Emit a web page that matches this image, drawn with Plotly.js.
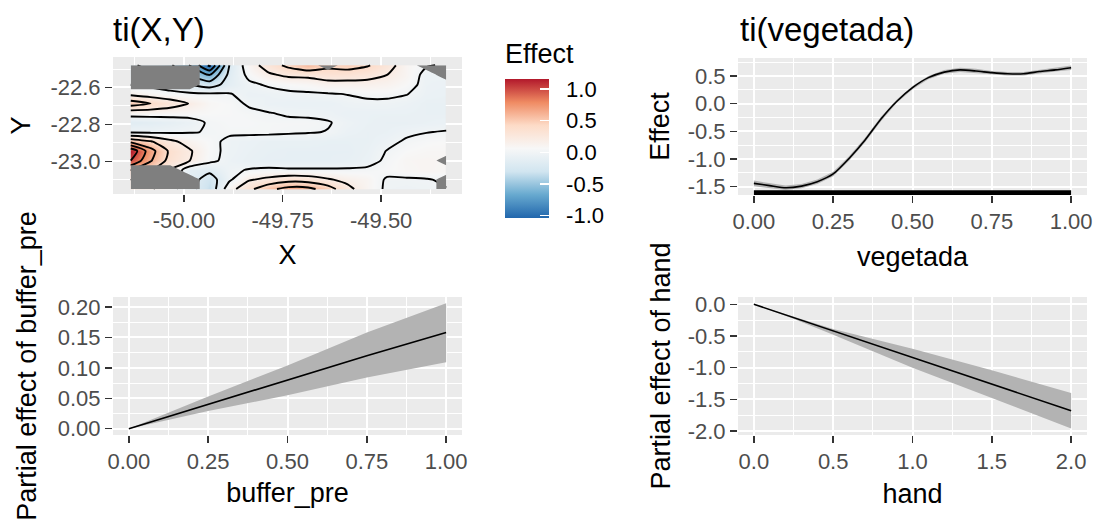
<!DOCTYPE html>
<html>
<head>
<meta charset="utf-8">
<script src="https://cdn.plot.ly/plotly-3.0.1.min.js"></script>
<style>html,body{margin:0;padding:0;background:#fff;}#chart{width:1099px;height:532px;}</style>
</head>
<body>
<div id="chart"></div>
<script>
// ---------------- DATA ----------------
// ti(X,Y) surface (rows from south to north, columns from west to east); null = outside data (grey)
const heatX = [-50.135, -50.085, -50.035, -49.985, -49.935, -49.885, -49.835, -49.785, -49.735, -49.685, -49.635, -49.585, -49.535, -49.485, -49.435, -49.385, -49.335];
const heatY = [-23.150, -23.099, -23.047, -22.996, -22.944, -22.893, -22.841, -22.790, -22.738, -22.687, -22.635, -22.584, -22.532, -22.480];
const heatZ = [
  [null, null, null, null, -0.35, 0.12, 0.35, 0.55, 0.67, 0.66, 0.50, 0.25, 0.10, -0.03, -0.04, -0.03, null],
  [null, null, null, null, -0.30, -0.03, 0.18, 0.25, 0.32, 0.30, 0.22, 0.15, 0.10, -0.02, -0.02, -0.01, null],
  [null, null, null, -0.12, -0.15, -0.03, 0.01, 0.03, 0.02, 0.02, 0.02, 0.02, 0.03, 0.05, 0.08, 0.10, 0.08],
  [1.00, 0.62, 0.33, 0.20, 0.04, -0.05, -0.08, -0.10, -0.10, -0.10, -0.10, -0.09, -0.06, 0.03, 0.09, 0.10, null],
  [1.16, 0.68, 0.36, 0.22, 0.05, -0.04, -0.07, -0.09, -0.10, -0.10, -0.10, -0.10, -0.07, 0.005, 0.06, 0.08, 0.08],
  [0.55, 0.42, 0.25, 0.12, 0.05, -0.04, -0.06, -0.08, -0.08, -0.08, -0.09, -0.09, -0.08, -0.04, 0.02, 0.05, 0.06],
  [-0.03, -0.04, -0.03, -0.01, 0.01, 0.03, 0.03, 0.03, 0.02, 0.01, -0.005, -0.06, -0.08, -0.07, -0.03, -0.005, 0.01],
  [-0.15, -0.13, -0.10, -0.06, 0.02, 0.04, 0.04, 0.03, 0.03, 0.03, 0.01, -0.04, -0.07, -0.08, -0.08, -0.07, -0.06],
  [0.09, 0.09, 0.08, 0.07, 0.06, 0.05, 0.03, 0.005, -0.02, -0.03, -0.04, -0.07, -0.07, -0.07, -0.07, -0.08, -0.08],
  [0.50, 0.40, 0.30, 0.19, 0.08, 0.05, -0.02, -0.06, -0.07, -0.07, -0.07, -0.04, -0.03, -0.03, -0.05, -0.08, -0.08],
  [0.15, 0.10, 0.06, 0.03, 0.02, 0.01, -0.06, -0.05, -0.03, -0.02, -0.01, 0.005, 0.03, 0.03, 0.005, -0.06, -0.07],
  [null, null, null, null, -0.30, -0.12, -0.03, 0.02, 0.06, 0.08, 0.13, 0.13, 0.14, 0.12, 0.06, -0.05, -0.06],
  [null, null, null, null, -0.60, -0.15, 0.04, 0.17, 0.24, 0.25, 0.30, 0.30, 0.26, 0.20, 0.10, -0.05, null],
  [null, null, null, null, -1.04, -0.20, 0.10, 0.30, 0.45, 0.58, null, 0.48, 0.42, 0.28, 0.10, null, null]
];
const effectMin = -1.04;
const effectMax = 1.16;

// ti(vegetada)
const vegX   = [0.00, 0.05, 0.10, 0.15, 0.20, 0.25, 0.30, 0.35, 0.40, 0.45, 0.50, 0.55, 0.60, 0.65, 0.70, 0.75, 0.80, 0.85, 0.90, 0.95, 1.00];
const vegFit = [-1.44, -1.48, -1.52, -1.49, -1.41, -1.27, -0.99, -0.66, -0.28, 0.04, 0.29, 0.47, 0.57, 0.61, 0.59, 0.56, 0.54, 0.54, 0.58, 0.61, 0.65];
const vegLo  = [-1.49, -1.52, -1.56, -1.53, -1.45, -1.31, -1.03, -0.70, -0.32, 0.01, 0.26, 0.44, 0.54, 0.57, 0.55, 0.53, 0.51, 0.51, 0.55, 0.58, 0.61];
const vegHi  = [-1.39, -1.44, -1.48, -1.45, -1.37, -1.23, -0.95, -0.62, -0.24, 0.07, 0.32, 0.50, 0.61, 0.65, 0.63, 0.59, 0.57, 0.57, 0.61, 0.64, 0.69];

// buffer_pre
const bufX   = [0.00, 0.25, 0.50, 0.75, 1.00];
const bufFit = [0.000, 0.040, 0.080, 0.120, 0.158];
const bufLo  = [0.000, 0.029, 0.055, 0.084, 0.109];
const bufHi  = [0.000, 0.053, 0.104, 0.158, 0.206];

// hand
const handX   = [0.00, 0.25, 0.50, 1.00, 1.50, 2.00];
const handFit = [0.00, -0.21, -0.43, -0.84, -1.26, -1.68];
const handLo  = [0.00, -0.23, -0.48, -1.00, -1.48, -1.96];
const handHi  = [0.00, -0.19, -0.39, -0.70, -1.04, -1.40];

// tick labels
const axXTicks = [-50.00, -49.75, -49.50];
const axXText  = ['-50.00', '-49.75', '-49.50'];
const axYTicks = [-23.0, -22.8, -22.6];
const axYText  = ['-23.0', '-22.8', '-22.6'];
const unitTicks = [0, 0.25, 0.5, 0.75, 1];
const unitText  = ['0.00', '0.25', '0.50', '0.75', '1.00'];
const vegYTicks = [-1.5, -1.0, -0.5, 0.0, 0.5];
const vegYText  = ['-1.5', '-1.0', '-0.5', '0.0', '0.5'];
const bufYTicks = [0, 0.05, 0.10, 0.15, 0.20];
const bufYText  = ['0.00', '0.05', '0.10', '0.15', '0.20'];
const handXTicks = [0, 0.5, 1.0, 1.5, 2.0];
const handXText  = ['0.0', '0.5', '1.0', '1.5', '2.0'];
const handYTicks = [-2.0, -1.5, -1.0, -0.5, 0.0];
const handYText  = ['-2.0', '-1.5', '-1.0', '-0.5', '0.0'];
const cbTicks = [-1.0, -0.5, 0.0, 0.5, 1.0];
const cbText  = ['-1.0', '-0.5', '0.0', '0.5', '1.0'];

// ---------------- STYLE ----------------
const FONT = 'Liberation Sans, Arial, Helvetica, sans-serif';
const TICK_FONT = {family: FONT, size: 22, color: '#4D4D4D'};
const TITLE_FONT = {family: FONT, size: 27, color: '#000000'};
const rdbu = [[0, '#2166AC'], [1/6, '#67A9CF'], [2/6, '#D1E5F0'], [0.5, '#F7F7F7'], [4/6, '#FDDBC7'], [5/6, '#EF8A62'], [1, '#B2182B']];

function minorVals(tv) {
  const step = tv[1] - tv[0];
  const out = [tv[0] - step / 2];
  tv.forEach(v => out.push(v + step / 2));
  return out;
}
function axis(domain, range, tv, tt, anchor, title, standoff) {
  return {
    domain: domain, range: range, anchor: anchor,
    tickmode: 'array', tickvals: tv, ticktext: tt,
    ticks: 'outside', ticklen: 7, tickwidth: 1.4, tickcolor: '#333333',
    tickfont: TICK_FONT,
    showgrid: true, gridcolor: '#FFFFFF', gridwidth: 2,
    minor: {tickmode: 'array', tickvals: minorVals(tv), showgrid: true, gridcolor: '#FFFFFF', gridwidth: 1, ticks: ''},
    zeroline: false, showline: false, fixedrange: true,
    title: {text: title, font: TITLE_FONT, standoff: standoff}
  };
}

const maskZ = heatZ.map(row => row.map(v => (v === null ? 1 : 0)));

const traces = [
  // colour field (with colour bar)
  {
    type: 'contour', x: heatX, y: heatY, z: heatZ, xaxis: 'x', yaxis: 'y',
    zmin: effectMin, zmax: effectMax, zauto: false, colorscale: rdbu,
    connectgaps: true,
    contours: {start: -1.0, end: 1.0, size: 0.2, coloring: 'heatmap', showlines: false},
    line: {width: 0},
    hoverinfo: 'skip',
    colorbar: {
      x: 505 / 1099, xanchor: 'left', y: 1 - 148.5 / 532, yanchor: 'middle',
      len: 139, lenmode: 'pixels', thickness: 44, thicknessmode: 'pixels',
      xpad: 0, ypad: 0, outlinewidth: 0,
      tickmode: 'array', tickvals: cbTicks, ticktext: cbText.map(s => '\u00a0\u00a0' + s),
      ticks: 'inside', ticklen: 9, tickwidth: 1.5, tickcolor: '#FFFFFF',
      tickfont: {family: FONT, size: 22, color: '#000000'}
    }
  },
  // contour lines
  {
    type: 'contour', x: heatX, y: heatY, z: heatZ, xaxis: 'x', yaxis: 'y',
    connectgaps: true, showscale: false, hoverinfo: 'skip',
    contours: {start: -1.0, end: 1.0, size: 0.2, coloring: 'none', showlines: true},
    line: {color: '#000000', width: 1.9, smoothing: 0.6}
  },
  // grey area outside data
  {
    type: 'contour', x: heatX, y: heatY, z: maskZ, xaxis: 'x', yaxis: 'y',
    showscale: false, hoverinfo: 'skip',
    contours: {type: 'constraint', operation: '<', value: 0.5},
    fillcolor: '#7F7F7F', line: {width: 0, color: 'rgba(0,0,0,0)', smoothing: 0}
  },
  // ti(vegetada)
  {type: 'scatter', x: vegX, y: vegLo, xaxis: 'x2', yaxis: 'y2', mode: 'lines', line: {width: 0}, hoverinfo: 'skip'},
  {type: 'scatter', x: vegX, y: vegHi, xaxis: 'x2', yaxis: 'y2', mode: 'lines', line: {width: 0}, fill: 'tonexty', fillcolor: '#B3B3B3', hoverinfo: 'skip'},
  {type: 'scatter', x: vegX, y: vegFit, xaxis: 'x2', yaxis: 'y2', mode: 'lines', line: {color: '#000000', width: 1.6, shape: 'spline', smoothing: 0.6}},
  // buffer_pre
  {type: 'scatter', x: bufX, y: bufLo, xaxis: 'x3', yaxis: 'y3', mode: 'lines', line: {width: 0}, hoverinfo: 'skip'},
  {type: 'scatter', x: bufX, y: bufHi, xaxis: 'x3', yaxis: 'y3', mode: 'lines', line: {width: 0}, fill: 'tonexty', fillcolor: '#B3B3B3', hoverinfo: 'skip'},
  {type: 'scatter', x: bufX, y: bufFit, xaxis: 'x3', yaxis: 'y3', mode: 'lines', line: {color: '#000000', width: 1.6}},
  // hand
  {type: 'scatter', x: handX, y: handLo, xaxis: 'x4', yaxis: 'y4', mode: 'lines', line: {width: 0}, hoverinfo: 'skip'},
  {type: 'scatter', x: handX, y: handHi, xaxis: 'x4', yaxis: 'y4', mode: 'lines', line: {width: 0}, fill: 'tonexty', fillcolor: '#B3B3B3', hoverinfo: 'skip'},
  {type: 'scatter', x: handX, y: handFit, xaxis: 'x4', yaxis: 'y4', mode: 'lines', line: {color: '#000000', width: 1.6}}
];

const W = 1099, H = 532;
const dx = (a, b) => [a / W, b / W];
const dy = (top, bottom) => [1 - bottom / H, 1 - top / H];

const layout = {
  width: W, height: H,
  margin: {l: 0, r: 0, t: 0, b: 0},
  paper_bgcolor: '#FFFFFF', plot_bgcolor: '#EBEBEB',
  showlegend: false,
  font: {family: FONT, color: '#000000'},
  xaxis:  axis(dx(113, 462), [-50.18, -49.295], axXTicks, axXText, 'y', 'X', 12),
  yaxis:  axis(dy(57, 194), [-23.177, -22.435], axYTicks, axYText, 'x', 'Y', 11),
  xaxis2: axis(dx(738, 1087), [-0.05, 1.05], unitTicks, unitText, 'y2', 'vegetada', 13),
  yaxis2: axis(dy(58, 195), [-1.65, 0.825], vegYTicks, vegYText, 'x2', 'Effect', 10),
  xaxis3: axis(dx(113, 462), [-0.05, 1.05], unitTicks, unitText, 'y3', 'buffer_pre', 9),
  yaxis3: axis(dy(297, 435), [-0.0103, 0.2163], bufYTicks, bufYText, 'x3', 'Partial effect of buffer_pre', 13),
  xaxis4: axis(dx(738, 1087), [-0.1, 2.1], handXTicks, handXText, 'y4', 'hand', 10),
  yaxis4: axis(dy(297, 435), [-2.063, 0.115], handYTicks, handYText, 'x4', 'Partial effect of hand', 9),
  shapes: [
    {type: 'rect', xref: 'x2', yref: 'y2 domain', x0: Math.min(...vegX), x1: Math.max(...vegX), y0: 0, y1: 0.035,
     fillcolor: '#000000', line: {width: 0}, layer: 'above'}
  ],
  annotations: [
    {text: 'ti(X,Y)', xref: 'paper', yref: 'paper', x: 111 / W, y: 1 - 30 / H, xanchor: 'left', yanchor: 'middle', showarrow: false, font: {family: FONT, size: 33, color: '#000000'}},
    {text: 'ti(vegetada)', xref: 'paper', yref: 'paper', x: 738 / W, y: 1 - 30 / H, xanchor: 'left', yanchor: 'middle', showarrow: false, font: {family: FONT, size: 33, color: '#000000'}},
    {text: 'Effect', xref: 'paper', yref: 'paper', x: 503 / W, y: 1 - 54 / H, xanchor: 'left', yanchor: 'middle', showarrow: false, font: {family: FONT, size: 27, color: '#000000'}}
  ]
};

Plotly.newPlot('chart', traces, layout, {displayModeBar: false, staticPlot: true});
</script>
</body>
</html>
